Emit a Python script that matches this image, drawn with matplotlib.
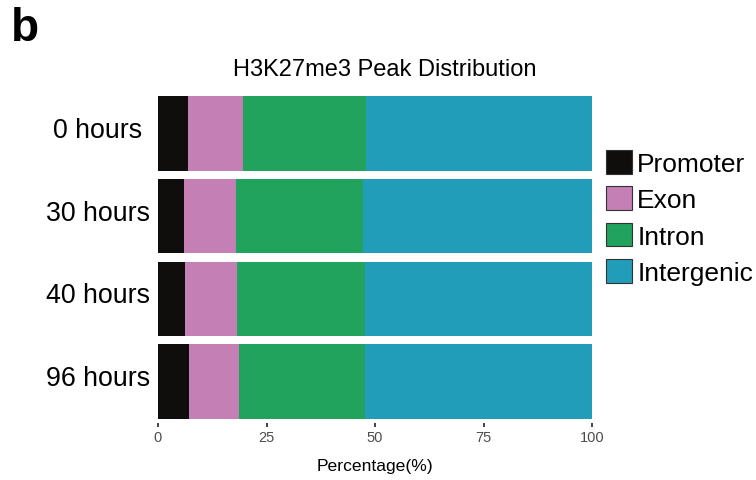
import matplotlib
matplotlib.use("Agg")
from matplotlib import pyplot as plt
from matplotlib.patches import Patch
from matplotlib.transforms import blended_transform_factory
import numpy as np

plt.rcParams["font.family"] = ["Liberation Sans", "DejaVu Sans"]

# percentages of H3K27me3 peaks per genomic feature
samples = ["0 hours", "30 hours", "40 hours", "96 hours"]
features = ["Promoter", "Exon", "Intron", "Intergenic"]
promoter = [6.9, 6.0, 6.2, 7.1]
exon = [12.7, 12.0, 12.0, 11.6]
intron = [28.3, 29.2, 29.5, 29.0]
intergenic = [52.1, 52.8, 52.3, 52.3]
colors = ["#100e0d", "#c47fb4", "#21a35e", "#219dba"]

fig = plt.figure(figsize=(7.56, 4.81), dpi=100)
ax = fig.add_axes([158 / 756, 1 - 424 / 481, 434 / 756, 331 / 481])

y = np.arange(len(samples))
left = np.zeros(len(samples))
for name, vals, col in zip(features, [promoter, exon, intron, intergenic], colors):
    ax.barh(y, vals, left=left, height=0.9, color=col, label=name, linewidth=0)
    left += np.array(vals)

ax.set_xlim(0, 100)
ax.set_ylim(3.5, -0.5)
ax.set_yticks(y)
ax.set_yticklabels([])
# sample labels centred in the left margin
trans = blended_transform_factory(fig.transFigure, ax.transData)
for yi, s in zip(y, samples):
    ax.text(98 / 756, yi + 0.042, s, transform=trans, fontsize=19.3,
            ha="center", va="baseline")

ax.set_xticks([0, 25, 50, 75, 100])
ax.tick_params(axis="x", length=3, width=1.3, color="#333333", labelcolor="#4d4d4d",
               labelsize=10.5, pad=2)
ax.tick_params(axis="y", length=0)
for s in ax.spines.values():
    s.set_visible(False)
ax.set_xlabel("Percentage(%)", fontsize=12.6, labelpad=10)

fig.text(385 / 756, 1 - 70 / 481, "H3K27me3 Peak Distribution", fontsize=17,
         ha="center", va="center")
fig.text(11 / 756, 1 - 29 / 481, "b", fontsize=33, fontweight="bold",
         ha="left", va="center")

handles = [Patch(facecolor=c, edgecolor="#333333", linewidth=0.8) for c in colors]
fig.legend(handles, features, loc="upper left",
           bbox_to_anchor=(606 / 756, 1 - 151 / 481), frameon=False,
           fontsize=19, handlelength=1.0, handleheight=1.0, handletextpad=0.18,
           labelspacing=0.4, borderpad=0, borderaxespad=0)

plt.savefig("out.png", dpi=100)
plt.close()
